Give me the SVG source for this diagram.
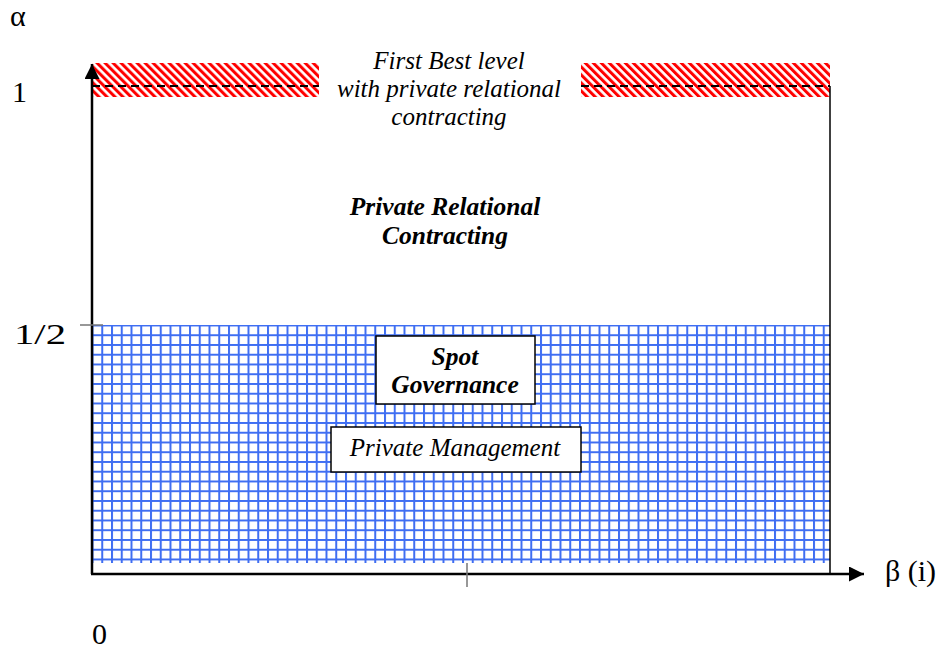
<svg xmlns="http://www.w3.org/2000/svg" width="946" height="653" viewBox="0 0 946 653">
<style>
.lbl{font-family:"Liberation Serif","Times New Roman",serif;font-size:30px;fill:#000}
.it{font-family:"Liberation Serif","Times New Roman",serif;font-size:25px;font-style:italic;fill:#000;text-anchor:middle}
.bi{font-weight:bold;font-size:25.5px}
.box{fill:#fff;stroke:#000;stroke-width:1.5}
.axis{stroke:#000;stroke-width:2.5;fill:none}
.tick{stroke:#777;stroke-width:1.5}
.dash{stroke:#000;stroke-width:2;stroke-dasharray:8 5;fill:none}
</style>
<defs>
<pattern id="hatch" patternUnits="userSpaceOnUse" width="5.66" height="10" patternTransform="rotate(-45)">
<rect width="5.66" height="10" fill="#fff"/>
<rect width="3" height="10" fill="#ff0000"/>
</pattern>
<pattern id="grid" patternUnits="userSpaceOnUse" x="91.5" y="324.5" width="9.75" height="9.75">
<rect width="9.75" height="9.75" fill="#fff"/>
<path d="M0 1H9.75M1 0V9.75" stroke="#3f6ef2" stroke-width="2" fill="none"/>
</pattern>
<marker id="arr" viewBox="0 0 10 10" refX="10" refY="5" markerWidth="6" markerHeight="6" markerUnits="strokeWidth" orient="auto">
<path d="M0 0L10 5L0 10z" fill="#000"/>
</marker>
</defs>
<g id="regions">
<rect x="92" y="63" width="227" height="34" fill="url(#hatch)"/>
<rect x="581" y="63" width="249" height="34" fill="url(#hatch)"/>
<rect x="92" y="325" width="738" height="238" fill="url(#grid)"/>
<path class="dash" d="M92 86H319M581 86H830"/>
<path d="M830 86V574" stroke="#000" stroke-width="1.5"/>
</g>
<g id="connectors">
<path class="axis" d="M92 574V64" marker-end="url(#arr)"/>
<path class="axis" d="M91 574H864" marker-end="url(#arr)"/>
<path class="tick" d="M80 325H103M467 563V587"/>
</g>
<g id="axis-labels">
<text class="lbl" x="10" y="26">α</text>
<text class="lbl" x="12" y="102">1</text>
<text class="lbl" x="14" y="344" textLength="52" lengthAdjust="spacingAndGlyphs">1/2</text>
<text class="lbl" x="92" y="644">0</text>
<text class="lbl" x="885" y="581">β (i)</text>
</g>
<g id="first-best">
<text class="it" x="449" y="69">First Best level</text>
<text class="it" x="449" y="97">with private relational</text>
<text class="it" x="449" y="125">contracting</text>
</g>
<g id="private-relational">
<text class="it bi" x="445" y="215">Private Relational</text>
<text class="it bi" x="445" y="244">Contracting</text>
</g>
<g id="spot-governance">
<rect class="box" x="376" y="336" width="159" height="68"/>
<text class="it bi" x="455" y="365">Spot</text>
<text class="it bi" x="455" y="393">Governance</text>
</g>
<g id="private-management">
<rect class="box" x="331" y="427" width="250" height="45"/>
<text class="it" x="455" y="456">Private Management</text>
</g>
</svg>
